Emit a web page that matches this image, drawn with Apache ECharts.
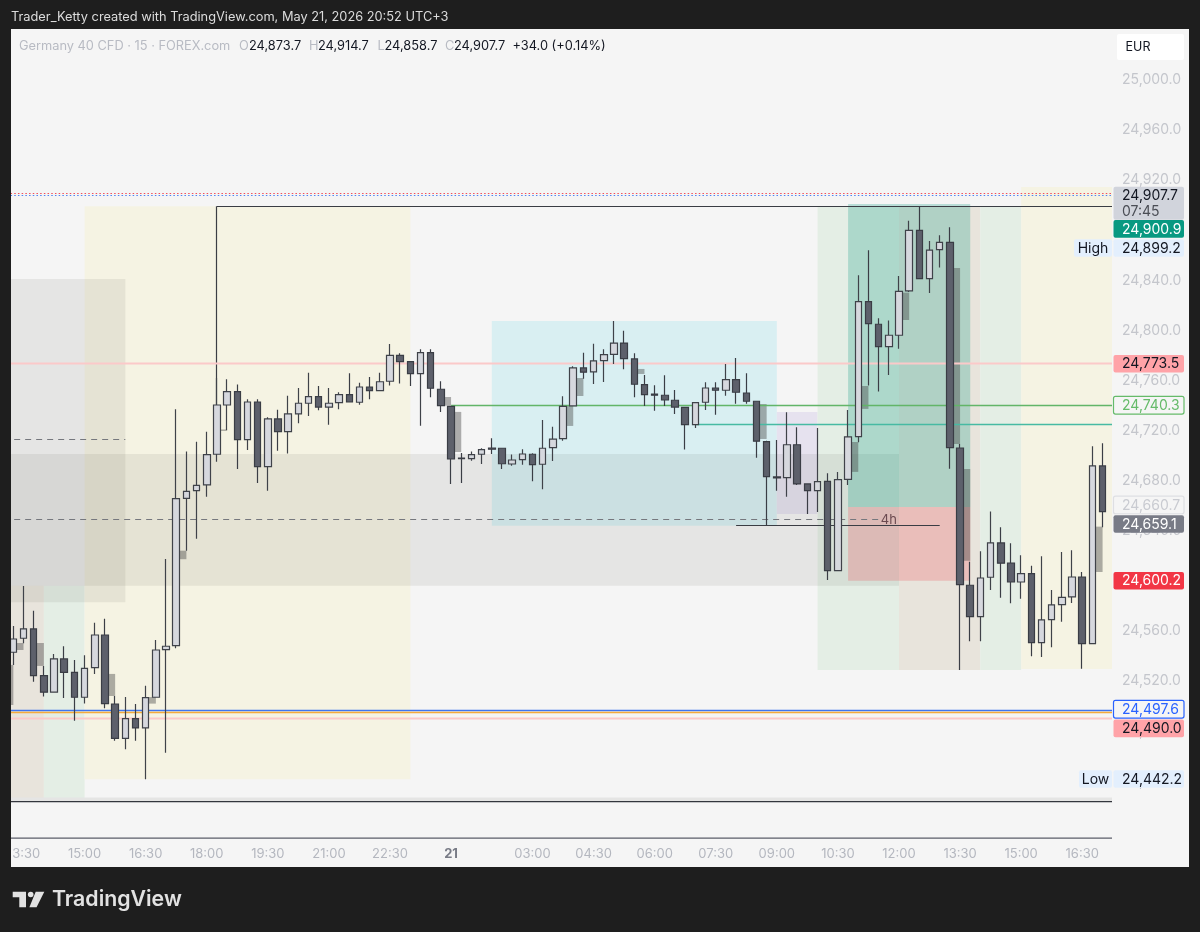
<!DOCTYPE html>
<html>
<head>
<meta charset="UTF-8">
<title>Germany 40 CFD</title>
<script src="https://cdn.jsdelivr.net/npm/echarts@6/dist/echarts.min.js"></script>
<style>
html,body{margin:0;padding:0;background:#1e1e1e;}
#main{width:1200px;height:932px;}
</style>
</head>
<body>
<div id="main"></div>
<script type="text/javascript">
// candles, left to right (first one sits at axis position 1)
var opens=[24543.1,24554.3,24561.7,24524.4,24511.2,24537.8,24527.1,24507.2,24530.8,24556.9,24501.8,24474.4,24490.1,24482.7,24507.2,24545.2,24548.4,24666,24672.1,24676.7,24701.2,24740.5,24751.2,24712.9,24742.9,24691.3,24729.4,24719.2,24733.4,24741.9,24747.2,24738.9,24742.4,24748.8,24742.7,24754.9,24752,24759.5,24780.2,24775.1,24765.5,24782.3,24753.1,24739.5,24698.2,24697.7,24701.2,24706.2,24706,24693.4,24696.9,24701.2,24693.2,24706.5,24713.6,24739.8,24770.1,24766.9,24775.9,24781,24790,24777.3,24756.8,24749.2,24748.3,24744.3,24738.7,24724.8,24742.7,24754.1,24752.3,24760.8,24750.1,24743.5,24711.2,24683.1,24682.5,24708.8,24677.5,24672.1,24679.5,24608.3,24681.2,24715.2,24823,24805,24787.1,24796.2,24831.6,24880,24841.4,24864.5,24870.4,24706.2,24596.6,24571.5,24603,24630.4,24614.2,24599.2,24605.9,24550.8,24569.1,24581.1,24587.3,24603.2,24550,24691.9];
var closes=[24553.7,24561.7,24524.4,24511.2,24537.8,24527.1,24507.2,24530.3,24556.9,24502.1,24474.4,24490.1,24482.7,24506.9,24544.9,24547.9,24665.7,24671.6,24676.4,24700.9,24740.5,24751.2,24712.9,24742.9,24691.3,24729.4,24719.2,24733.4,24741.9,24747.2,24738.9,24741.9,24748.8,24742.9,24754.9,24752,24759.1,24780.2,24775.1,24765.5,24782.3,24753.9,24740,24697.4,24697.7,24700.9,24704.9,24705.2,24693.6,24696.6,24701.4,24692.9,24706,24713.2,24739.5,24770.1,24766.7,24775.7,24780.7,24790,24777.5,24757.1,24748.8,24748.4,24744.5,24738.9,24724.8,24742.4,24754.1,24752.3,24760.8,24750.7,24743.5,24711.6,24683.3,24682.4,24708.8,24677.5,24672.1,24679.3,24608.3,24680.9,24715,24823,24805.5,24787.1,24796.2,24831.3,24880,24841.4,24864.1,24870.4,24706.5,24597.1,24571.5,24602.4,24630.4,24614.2,24599.2,24605.9,24550.8,24568.9,24580.9,24587,24603.2,24550,24691.9,24655.4];
var lows=[24533,24550.3,24519.6,24507.7,24511.2,24506.6,24488.5,24502.1,24525.8,24498.4,24472.5,24465.7,24472.5,24441.7,24507.2,24462.9,24546.3,24624.2,24633.8,24667.3,24695.3,24720.6,24689.5,24704.6,24678.3,24672.1,24703.9,24701.7,24725.9,24731.8,24736.3,24724.8,24737.1,24742.9,24740.8,24745.1,24752,24756,24757.6,24755.7,24724,24746.7,24735,24677.5,24678.3,24696.1,24693.4,24701.4,24689.5,24692.1,24692.9,24679.6,24673.2,24695.8,24712,24739.8,24761.5,24757.3,24758.9,24773.3,24769,24746.7,24739.8,24736,24739.8,24733.4,24704.9,24722.2,24736.6,24732.8,24748,24741.6,24741.6,24698.5,24644.5,24672.1,24667.3,24676.7,24653.5,24655.1,24600.8,24608.3,24676.7,24710.8,24756,24751.2,24764.5,24785.5,24830.8,24841.4,24830,24850.2,24689.7,24529,24551.9,24551.9,24592.9,24586.7,24582.2,24585.9,24539.9,24539.4,24547.1,24567.5,24582.5,24530,24550,24642.9];
var highs=[24564.1,24596,24576.3,24532.2,24541.8,24547.9,24537,24540.7,24566.7,24569.9,24508.2,24507.4,24501.8,24516.4,24552.9,24617.6,24737.1,24703.3,24711.2,24719.2,24762.1,24761.1,24756.8,24745.1,24745.1,24730.7,24736.8,24748,24754.1,24766.3,24755.7,24754.1,24750.7,24765.9,24758.3,24762.9,24766.3,24789.2,24781.8,24775.1,24785,24785,24759.5,24739.5,24702.2,24703.3,24706,24714,24706,24700.9,24705.2,24702,24728.6,24723.2,24747.5,24771.4,24782.3,24789.5,24785,24807.6,24799.9,24781.8,24764.5,24756.3,24764.3,24752.5,24738.7,24742.9,24758.7,24758.7,24773.3,24778.1,24765.9,24744,24712,24712.6,24734.7,24722.7,24677.5,24722.2,24686,24687.1,24736.6,24844.1,24864.1,24809.8,24807.9,24843.5,24887.7,24899.2,24871.5,24876,24882.4,24709.4,24615.4,24623.7,24655.4,24642.9,24630.1,24620.6,24612.2,24619.8,24592.9,24623.2,24624.5,24607.2,24707.6,24710];

// time axis: positions that carry a label
var tickPos=[2,8,14,20,26,32,38,44,52,58,64,70,76,82,88,94,100,106];
var tickText=['13:30','15:00','16:30','18:00','19:30','21:00','22:30','21','03:00','04:30','06:00','07:30','09:00','10:30','12:00','13:30','15:00','16:30'];
var barCount=110;

// price axis
var priceMin=24400;
var priceMax=25040;
var priceStep=40;
var hiddenTicks=[24400,25040];

// shaded zones: from/to axis position, top/bottom price, kind (drawn in this order)
var zoneFrom=[0,4,8,48,76,80,88,96,100,0,0,0,83,83];
var zoneTo=[4,8,40,76,80,88,96,100,109,12,88,109,95,95];
var zoneTop=[24596.3,24596.3,24899.2,24807.6,24735,24899.2,24899.2,24899.2,24914.6,24841.1,24701.4,24427.2,24900.9,24659.1];
var zoneBottom=[24427.2,24427.2,24441.7,24644.2,24653.5,24529,24529,24529,24529.8,24583,24596.3,24424.4,24659.1,24600.2];
var zoneKind=['tan','green','yellow','blue','purple','green','tan','green','yellow','gray','gray','gray','profit','loss'];

// small grey boxes behind the candles: one bar wide
var ghostFrom=[0,1,3,10,14,17,21,43,44,55,56,62,74,83,84,88,93,94,107];
var ghostTop=[24533,24550.5,24550.5,24525.8,24507.4,24624.2,24721,24746.9,24735,24739.8,24762.1,24769.3,24741.3,24711,24755.7,24830.2,24849.9,24689.5,24643.4];
var ghostBottom=[24501,24544.9,24532.2,24508.2,24502.1,24617.4,24719.8,24740,24703,24723.8,24747.7,24765.3,24713.4,24687.1,24737.4,24808.4,24709.4,24616.2,24607.2];

// drawn lines: from/to position, start/end price, kind
var lineFrom=[0,0,21,21,0,44,68,0,0,72,0,0,0];
var lineTo=[109,109,109,21,109,109,109,86,12,92,109,109,109];
var lineStart=[24909.6,24907.7,24899.2,24899.2,24773.5,24740.3,24725,24648.9,24712.6,24644.7,24497,24494.7,24490];
var lineEnd=[24909.6,24907.7,24899.2,24740.5,24773.5,24740.3,24725,24648.9,24712.6,24644.7,24497,24494.7,24490];
var lineKind=['dotRed','dotBlue','black','black','pink','greenLine','tealLine','dash','dash','black','blueLine','orangeLine','pink'];

var noteText=['4h'];
var notePos=[87];
var notePrice=[24649];

// tags on the price scale: printed value, price where the tag sits, kind
var tagValue=[24907.7,24900.9,24899.2,24773.5,24740.3,24660.7,24659.1,24600.2,24497.6,24490,24442.2];
var tagAnchor=[24907.8,24881.1,24865.9,24773.5,24740.3,24660.7,24645.5,24600.2,24497.6,24482.3,24441.9];
var tagKind=['last','green','range','alert','greenBox','greyBox','slate','red','blueBox','alert','range'];
var tagSide=['','','High','','','','','','','','Low'];
var countdown='07:45';

var watermark='Trader_Ketty created with TradingView.com, May 21, 2026 20:52 UTC+3';
var symbolLine='Germany 40 CFD · 15 · FOREX.com';
var ohlcKeys=['O','H','L','C'];
var ohlcValues=['24,873.7','24,914.7','24,858.7','24,907.7'];
var changeText='+34.0 (+0.14%)';

var FONT='Inter, "Noto Sans", sans-serif';
var PANEL='#f5f5f5';
var zoneStyle={
	gray:'rgba(40,40,30,0.075)',
	tan:'#e8e4dc',
	green:'#e4eee5',
	yellow:'#f5f3e3',
	blue:'#d9eff2',
	purple:'#e6e2ef',
	profit:'rgba(8,153,129,0.25)',
	loss:'rgba(242,54,69,0.22)'
};
var strokeStyle={
	dotRed:{stroke:'#f0505c',lineWidth:1.2,lineDash:[1.5,2.2]},
	dotBlue:{stroke:'#4f82f3',lineWidth:1.2,lineDash:[1.5,2.2]},
	black:{stroke:'#3a3d44',lineWidth:1.2},
	pink:{stroke:'#fbc9c9',lineWidth:2},
	greenLine:{stroke:'#62b568',lineWidth:1.5},
	tealLine:{stroke:'#47baa3',lineWidth:1.5},
	dash:{stroke:'#75777d',lineWidth:1,lineDash:[6,5]},
	blueLine:{stroke:'#3f74ef',lineWidth:1.5},
	orangeLine:{stroke:'#f5ab3e',lineWidth:1.5}
};
var tagStyle={
	last:{bg:'#d1d4dc',text:'#131722'},
	green:{bg:'#089981',text:'#ffffff'},
	range:{bg:'#e3effd',text:'#131722'},
	alert:{bg:'#ffa3a8',text:'#131722'},
	greenBox:{bg:PANEL,text:'#66bb6a',border:'#66bb6a'},
	greyBox:{bg:PANEL,text:'#c9cbd1',border:'#dedfe3'},
	slate:{bg:'#787b86',text:'#ffffff'},
	red:{bg:'#f23645',text:'#ffffff'},
	blueBox:{bg:PANEL,text:'#2962ff',border:'#2962ff'}
};

function fmt(v){
	return v.toLocaleString('en-US',{minimumFractionDigits:1,maximumFractionDigits:1});
}

var candles=[];
for(var i=0;i<opens.length;i++){
	candles.push([i+1,opens[i],closes[i],lows[i],highs[i]]);
}
var categories=[];
for(var i=0;i<barCount;i++){
	var at=tickPos.indexOf(i);
	categories.push(at<0?'':tickText[at]);
}
var zoneRows=zoneFrom.map(function(v,k){return [v,zoneTo[k],zoneTop[k],zoneBottom[k]];});
var ghostRows=ghostFrom.map(function(v,k){return [v,v+1,ghostTop[k],ghostBottom[k]];});
var lineRows=lineFrom.map(function(v,k){return [v,lineTo[k],lineStart[k],lineEnd[k]];});
var noteRows=notePos.map(function(v,k){return [v,notePrice[k]];});
var tagRows=tagAnchor.map(function(v){return [0,v];});

function boxItem(api,fill){
	var a=api.coord([api.value(0),api.value(2)]);
	var b=api.coord([api.value(1),api.value(3)]);
	return {type:'rect',shape:{x:a[0],y:a[1],width:b[0]-a[0],height:b[1]-a[1]},style:{fill:fill}};
}

function crisp(v){
	return Math.round(v-0.5)+0.5;
}

function renderTag(params,api){
	var k=params.dataIndex;
	var y=api.coord([0,api.value(1)])[1];
	var s=tagStyle[tagKind[k]];
	var top=y-8.8,h=17.6;
	var kids=[];
	if(tagKind[k]=='last'){h=33;}
	kids.push({type:'rect',shape:{x:1113.5,y:top,width:70.5,height:h,r:2},
		style:{fill:s.bg,stroke:s.border||null,lineWidth:s.border?1.2:0}});
	kids.push({type:'text',style:{x:1122,y:y+0.5,text:fmt(tagValue[k]),fill:s.text,font:'14px '+FONT,verticalAlign:'middle'}});
	if(tagKind[k]=='last'){
		kids.push({type:'text',style:{x:1122,y:y+16.5,text:countdown,fill:'#4a4d55',font:'14px '+FONT,verticalAlign:'middle'}});
	}
	if(tagSide[k]){
		var w=tagSide[k]=='High'?38:33;
		kids.push({type:'rect',shape:{x:1112-w,y:top,width:w,height:h,r:2},style:{fill:s.bg}});
		kids.push({type:'text',style:{x:1112-w/2,y:y+0.5,text:tagSide[k],fill:s.text,font:'14px '+FONT,align:'center',verticalAlign:'middle'}});
	}
	return {type:'group',children:kids};
}

// the frame and everything around the plot
var chrome=[
	{type:'rect',z:40,shape:{x:1112,y:29,width:77,height:838},style:{fill:PANEL}},
	{type:'rect',z:40,shape:{x:11,y:801,width:1101,height:66},style:{fill:PANEL}},
	{type:'rect',z:41,shape:{x:11,y:801,width:1101,height:1.2},style:{fill:'#33363d'}},
	{type:'rect',z:41,shape:{x:11,y:837.5,width:1101,height:1.2},style:{fill:'#5a5d68'}},
	{type:'rect',z:55,shape:{x:0,y:0,width:1200,height:29},style:{fill:'#1e1e1e'}},
	{type:'rect',z:55,shape:{x:0,y:867,width:1200,height:65},style:{fill:'#1e1e1e'}},
	{type:'rect',z:55,shape:{x:0,y:0,width:11,height:932},style:{fill:'#1e1e1e'}},
	{type:'rect',z:55,shape:{x:1189,y:0,width:11,height:932},style:{fill:'#1e1e1e'}},
	{type:'text',z:70,style:{x:11,y:17,text:watermark,fill:'#dcdcdc',font:'12.8px '+FONT,verticalAlign:'middle'}},
	{type:'text',z:70,style:{x:19,y:46,text:symbolLine,fill:'#b8bbc3',font:'12.8px '+FONT,verticalAlign:'middle'}},
	{type:'text',z:70,style:{x:512.5,y:46,text:changeText,fill:'#131722',font:'12.8px '+FONT,verticalAlign:'middle'}},
	{type:'rect',z:70,shape:{x:1117,y:34,width:67,height:26,r:2},style:{fill:'#ffffff'}},
	{type:'text',z:71,style:{x:1138,y:47,text:'EUR',fill:'#131722',font:'12.5px '+FONT,align:'center',verticalAlign:'middle'}},
	// TradingView logo
	{type:'polygon',z:70,shape:{points:[[12.7,891.7],[26,891.7],[26,907.3],[19.3,907.3],[19.3,897.3],[12.7,897.3]]},style:{fill:'#e2e2e2'}},
	{type:'circle',z:70,shape:{cx:30.7,cy:894.5,r:2.8},style:{fill:'#e2e2e2'}},
	{type:'polygon',z:70,shape:{points:[[35.7,891.7],[44.3,891.7],[36.6,907.3],[29.4,907.3]]},style:{fill:'#e2e2e2'}},
	{type:'text',z:70,style:{x:52,y:900,text:'TradingView',fill:'#e2e2e2',font:'600 21.3px '+FONT,verticalAlign:'middle'}}
];
var ohlcX=[239,309,377.5,445];
var ohlcGap=[10,9,7,9];
ohlcKeys.forEach(function(key,k){
	chrome.push({type:'text',z:70,style:{x:ohlcX[k],y:46,text:key,fill:'#b8bbc3',font:'12.8px '+FONT,verticalAlign:'middle'}});
	chrome.push({type:'text',z:70,style:{x:ohlcX[k]+ohlcGap[k],y:46,text:ohlcValues[k],fill:'#131722',font:'12.8px '+FONT,verticalAlign:'middle'}});
});

var myChart=echarts.init(document.getElementById('main'),null,{renderer:'canvas'});
var option={
	animation:false,
	backgroundColor:PANEL,
	graphic:{elements:chrome},
	grid:{left:3.16,right:87.24,top:29.9,bottom:100.5},
	xAxis:{
		type:'category',
		data:categories,
		z:50,
		boundaryGap:false,
		axisLine:{show:false},
		axisTick:{show:false},
		splitLine:{show:false},
		axisLabel:{
			interval:0,
			margin:16,
			fontFamily:FONT,
			fontSize:13,
			color:'#b4b7bf',
			formatter:function(v){return v=='21'?'{day|21}':v;},
			rich:{day:{fontFamily:FONT,fontSize:13,fontWeight:'bold',color:'#787b86'}}
		}
	},
	yAxis:{
		type:'value',
		position:'right',
		min:priceMin,
		max:priceMax,
		interval:priceStep,
		z:50,
		axisLine:{show:false},
		axisTick:{show:false},
		splitLine:{show:false},
		axisLabel:{
			margin:9.27,
			padding:[2,0,0,0],
			fontFamily:FONT,
			fontSize:14,
			color:'#c4c6cc',
			formatter:function(v){return hiddenTicks.indexOf(v)>=0?'':fmt(v);}
		}
	},
	series:[
		{
			name:'zones',type:'custom',z:1,silent:true,data:zoneRows,
			encode:{x:[0,1],y:[2,3]},
			renderItem:function(params,api){return boxItem(api,zoneStyle[zoneKind[params.dataIndex]]);}
		},
		{
			name:'ghosts',type:'custom',z:2,silent:true,data:ghostRows,
			encode:{x:[0,1],y:[2,3]},
			renderItem:function(params,api){return boxItem(api,'rgba(70,70,70,0.42)');}
		},
		{
			name:'lines',type:'custom',z:3,silent:true,data:lineRows,
			encode:{x:[0,1],y:[2,3]},
			renderItem:function(params,api){
				var a=api.coord([api.value(0),api.value(2)]);
				var b=api.coord([api.value(1),api.value(3)]);
				var s=strokeStyle[lineKind[params.dataIndex]];
				var x1=a[0],x2=b[0],y1=a[1],y2=b[1];
				if(y1==y2){y1=y2=crisp(y1);}
				if(x1==x2){x1=x2=crisp(x1);}
				return {type:'line',shape:{x1:x1,y1:y1,x2:x2,y2:y2},
					style:{stroke:s.stroke,lineWidth:s.lineWidth,lineDash:s.lineDash||null}};
			}
		},
		{
			name:'notes',type:'custom',z:4,silent:true,data:noteRows,
			encode:{x:0,y:1},
			renderItem:function(params,api){
				var a=api.coord([api.value(0),api.value(1)]);
				return {type:'text',style:{x:a[0],y:a[1],text:noteText[params.dataIndex],fill:'#6b4a50',font:'13px '+FONT,align:'center',verticalAlign:'middle'}};
			}
		},
		{
			name:'Germany 40',type:'candlestick',z:5,silent:true,barWidth:7,data:candles,
			encode:{x:0,y:[1,2,3,4]},
			itemStyle:{color:'#d6d8de',color0:'#5d606b',borderColor:'#3f4249',borderColor0:'#3a3d45',borderWidth:1.2}
		},
		{
			name:'tags',type:'custom',z:60,silent:true,data:tagRows,
			encode:{x:0,y:1},
			renderItem:renderTag
		}
	]
};
myChart.setOption(option);
</script>
</body>
</html>
